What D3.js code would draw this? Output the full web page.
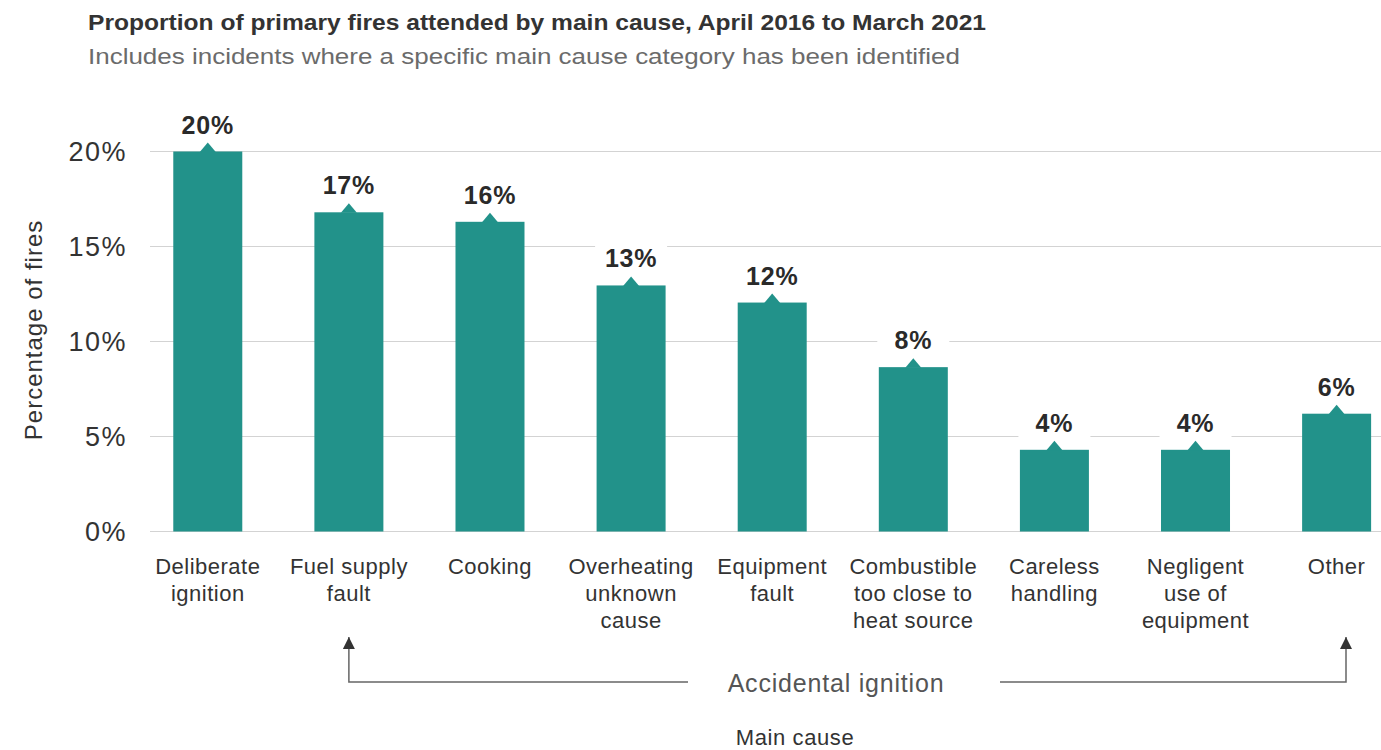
<!DOCTYPE html>
<html>
<head>
<meta charset="utf-8">
<script src="https://cdn.jsdelivr.net/npm/d3@7"></script>
<style>
    body { margin: 0; background: #fff; font-family: "Liberation Sans", Arial, sans-serif; }
    svg text { font-family: "Liberation Sans", Arial, sans-serif; }
</style>
</head>
<body>
<div id="chart"></div>
<script>
// data
let causes = [
    ["Deliberate", "ignition"],
    ["Fuel supply", "fault"],
    ["Cooking"],
    ["Overheating", "unknown", "cause"],
    ["Equipment", "fault"],
    ["Combustible", "too close to", "heat source"],
    ["Careless", "handling"],
    ["Negligent", "use of", "equipment"],
    ["Other"]
];
let shares = [20.0, 16.8, 16.3, 12.95, 12.05, 8.65, 4.3, 4.3, 6.2];
let shareLabels = ["20%", "17%", "16%", "13%", "12%", "8%", "4%", "4%", "6%"];
let yTicks = [0, 5, 10, 15, 20];

let W = 1381, H = 750;
let margin = {top: 151.5, left: 150, bottom: 218.5};
let teal = "#22928a";

let svg = d3.select("#chart").append("svg")
    .attr("width", W)
    .attr("height", H);

// titles
svg.append("text")
    .attr("x", 88).attr("y", 30)
    .attr("font-size", 22).attr("font-weight", "bold")
    .attr("fill", "#333")
    .attr("textLength", 898).attr("lengthAdjust", "spacingAndGlyphs")
    .text("Proportion of primary fires attended by main cause, April 2016 to March 2021");

svg.append("text")
    .attr("x", 88).attr("y", 64)
    .attr("font-size", 22)
    .attr("fill", "#6b6b6b")
    .attr("textLength", 872).attr("lengthAdjust", "spacingAndGlyphs")
    .text("Includes incidents where a specific main cause category has been identified");

// scales
let ids = causes.map((c, i) => i);
let x = d3.scaleBand()
    .domain(ids)
    .range([margin.left, 1394.4])
    .paddingInner(0.511)
    .paddingOuter(0.165);

let y = d3.scaleLinear()
    .domain([0, 20])
    .range([H - margin.bottom, margin.top]);

// gridlines
svg.append("g")
    .selectAll("line")
    .data(yTicks)
    .join("line")
    .attr("x1", margin.left)
    .attr("x2", W)
    .attr("y1", d => y(d))
    .attr("y2", d => y(d))
    .attr("stroke", "#d3d3d3")
    .attr("stroke-width", 1.2);

// y axis labels
let yAxis = svg.append("g")
    .attr("transform", `translate(${margin.left - 23},0)`)
    .call(d3.axisLeft(y).tickValues(yTicks).tickFormat(d => d + "%").tickSize(0).tickPadding(0));
yAxis.select(".domain").remove();
yAxis.selectAll("text")
    .attr("font-size", 27)
    .attr("letter-spacing", 1.5)
    .attr("fill", "#333")
    .attr("dy", "0.35em");

svg.append("text")
    .attr("transform", `translate(42, 330) rotate(-90)`)
    .attr("text-anchor", "middle")
    .attr("font-size", 24)
    .attr("letter-spacing", 1)
    .attr("fill", "#333")
    .text("Percentage of fires");

// bars
svg.append("g")
    .selectAll("rect")
    .data(shares)
    .join("rect")
    .attr("x", (d, i) => x(i))
    .attr("y", d => y(d))
    .attr("width", x.bandwidth())
    .attr("height", d => y(0) - y(d))
    .attr("fill", teal);

// value labels with pointer
let lbl = svg.append("g").selectAll("g")
    .data(shares)
    .join("g")
    .attr("transform", (d, i) => `translate(${x(i) + x.bandwidth() / 2},${y(d)})`);

lbl.append("rect")
    .attr("x", -36).attr("y", -42)
    .attr("width", 72).attr("height", 34)
    .attr("fill", "#fff");

lbl.append("path")
    .attr("d", "M-8,0.5 L0,-9 L8,0.5 Z")
    .attr("fill", teal);

lbl.append("text")
    .attr("y", -18)
    .attr("text-anchor", "middle")
    .attr("font-size", 25)
    .attr("letter-spacing", 0.8)
    .attr("font-weight", "bold")
    .attr("fill", "#2a2a2a")
    .text((d, i) => shareLabels[i]);

// category labels
let cat = svg.append("g").selectAll("text")
    .data(causes)
    .join("text")
    .attr("x", (d, i) => x(i) + x.bandwidth() / 2)
    .attr("y", 574)
    .attr("text-anchor", "middle")
    .attr("font-size", 22)
    .attr("letter-spacing", 0.5)
    .attr("fill", "#333");
cat.selectAll("tspan")
    .data(d => d)
    .join("tspan")
    .attr("x", function() { return d3.select(this.parentNode).attr("x"); })
    .attr("dy", (d, i) => i === 0 ? 0 : 27)
    .text(d => d);

// accidental ignition bracket
let xa = x(1) + x.bandwidth() / 2;
let xb = 1346;
let yl = 682;
svg.append("defs").append("marker")
    .attr("id", "arrow")
    .attr("viewBox", "0 0 10 10")
    .attr("refX", 10).attr("refY", 5)
    .attr("markerWidth", 12).attr("markerHeight", 12)
    .attr("markerUnits", "userSpaceOnUse")
    .attr("orient", "auto")
    .append("path")
    .attr("d", "M0,0 L10,5 L0,10 Z")
    .attr("fill", "#333");

svg.append("path")
    .attr("d", `M688,${yl} H${xa} V637`)
    .attr("fill", "none")
    .attr("stroke", "#666")
    .attr("stroke-width", 1.5)
    .attr("marker-end", "url(#arrow)");

svg.append("path")
    .attr("d", `M1000,${yl} H${xb} V637`)
    .attr("fill", "none")
    .attr("stroke", "#666")
    .attr("stroke-width", 1.5)
    .attr("marker-end", "url(#arrow)");

svg.append("text")
    .attr("x", 836).attr("y", 692)
    .attr("text-anchor", "middle")
    .attr("font-size", 25)
    .attr("letter-spacing", 0.8)
    .attr("fill", "#555")
    .text("Accidental ignition");

svg.append("text")
    .attr("x", 795).attr("y", 745)
    .attr("text-anchor", "middle")
    .attr("font-size", 22)
    .attr("letter-spacing", 0.6)
    .attr("fill", "#333")
    .text("Main cause");
</script>
</body>
</html>
